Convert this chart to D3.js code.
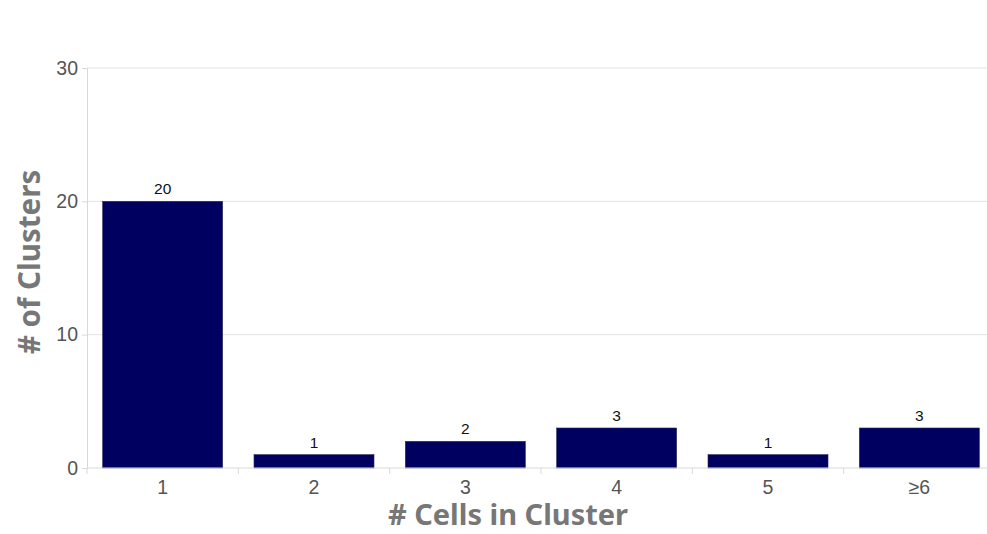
<!DOCTYPE html>
<html>
<head>
<meta charset="utf-8">
<script src="https://cdn.jsdelivr.net/npm/d3@7"></script>
<style>
  html, body { margin: 0; padding: 0; background: #fff; }
  svg { display: block; }
</style>
</head>
<body>
<svg id="chart" width="987" height="534"></svg>
<script>
// Cluster size distribution
const categories = ["1", "2", "3", "4", "5", "\u22656"];
const clusterCounts = [20, 1, 2, 3, 1, 3];
const yTicks = [0, 10, 20, 30];
const xTitle = "# Cells in Cluster";
const yTitle = "# of Clusters";

const svg = d3.select("#chart");
const W = 987, H = 534;
const plotLeft = 87, plotRight = 995, plotTop = 68, plotBottom = 468;

const x = d3.scaleBand()
  .domain(categories)
  .range([plotLeft, plotRight])
  .paddingInner(0.207)
  .paddingOuter(0.1035);

const y = d3.scaleLinear().domain([0, 30]).range([plotBottom, plotTop]);

// horizontal gridlines
svg.append("g")
  .selectAll("line")
  .data(yTicks.filter(d => d > 0))
  .join("line")
  .attr("x1", plotLeft).attr("x2", W)
  .attr("y1", d => y(d)).attr("y2", d => y(d))
  .attr("stroke", "#e3e3e3").attr("stroke-width", 1);

// y axis
const yAxis = svg.append("g")
  .attr("transform", `translate(${plotLeft},0)`)
  .call(d3.axisLeft(y).tickValues(yTicks).tickSize(5).tickPadding(4));
yAxis.select(".domain").attr("stroke", "#d9d9d9");
yAxis.selectAll(".tick line").attr("stroke", "#d9d9d9");
yAxis.selectAll(".tick text")
  .attr("fill", "#555")
  .style("font-family", "'Liberation Sans', Arial, sans-serif")
  .style("font-size", "19.5px");

// bars
svg.append("g")
  .selectAll("rect")
  .data(categories)
  .join("rect")
  .attr("x", d => x(d))
  .attr("width", x.bandwidth())
  .attr("y", (d, i) => y(clusterCounts[i]))
  .attr("height", (d, i) => y(0) - y(clusterCounts[i]))
  .attr("fill", "#000060")
  .attr("stroke", "#2a2a55")
  .attr("stroke-width", 0.6);

// x axis
const xAxisG = svg.append("g")
  .attr("transform", `translate(0,${plotBottom})`);
xAxisG.append("line")
  .attr("x1", plotLeft).attr("x2", W)
  .attr("stroke", "#d9d9d9");
const step = x.step();
const boundaries = d3.range(categories.length + 1).map(i => plotLeft + i * step);
xAxisG.selectAll("line.tk")
  .data(boundaries)
  .join("line")
  .attr("class", "tk")
  .attr("x1", d => d).attr("x2", d => d)
  .attr("y1", 0).attr("y2", 6)
  .attr("stroke", "#d9d9d9");
xAxisG.selectAll("text")
  .data(categories)
  .join("text")
  .attr("x", d => x(d) + x.bandwidth() / 2)
  .attr("y", 26)
  .attr("text-anchor", "middle")
  .attr("fill", "#555")
  .style("font-family", "'Liberation Sans', Arial, sans-serif")
  .style("font-size", "19.5px")
  .text(d => d);

// value labels
svg.append("g")
  .selectAll("text")
  .data(categories)
  .join("text")
  .attr("x", d => x(d) + x.bandwidth() / 2)
  .attr("y", (d, i) => y(clusterCounts[i]) - 7)
  .attr("text-anchor", "middle")
  .attr("fill", "#111")
  .style("font-family", "'Liberation Sans', Arial, sans-serif")
  .style("font-size", "15.5px")
  .text((d, i) => clusterCounts[i]);

// axis titles
svg.append("text")
  .attr("x", 508)
  .attr("y", 525)
  .attr("text-anchor", "middle")
  .attr("fill", "#777")
  .style("font-family", "'Noto Sans', 'DejaVu Sans', sans-serif")
  .style("font-weight", "bold")
  .style("font-size", "29px")
  .text(xTitle);

svg.append("text")
  .attr("transform", `translate(40,${(plotTop + plotBottom) / 2 - 6}) rotate(-90)`)
  .attr("text-anchor", "middle")
  .attr("fill", "#777")
  .style("font-family", "'Noto Sans', 'DejaVu Sans', sans-serif")
  .style("font-weight", "bold")
  .style("font-size", "29.5px")
  .text(yTitle);
</script>
</body>
</html>
